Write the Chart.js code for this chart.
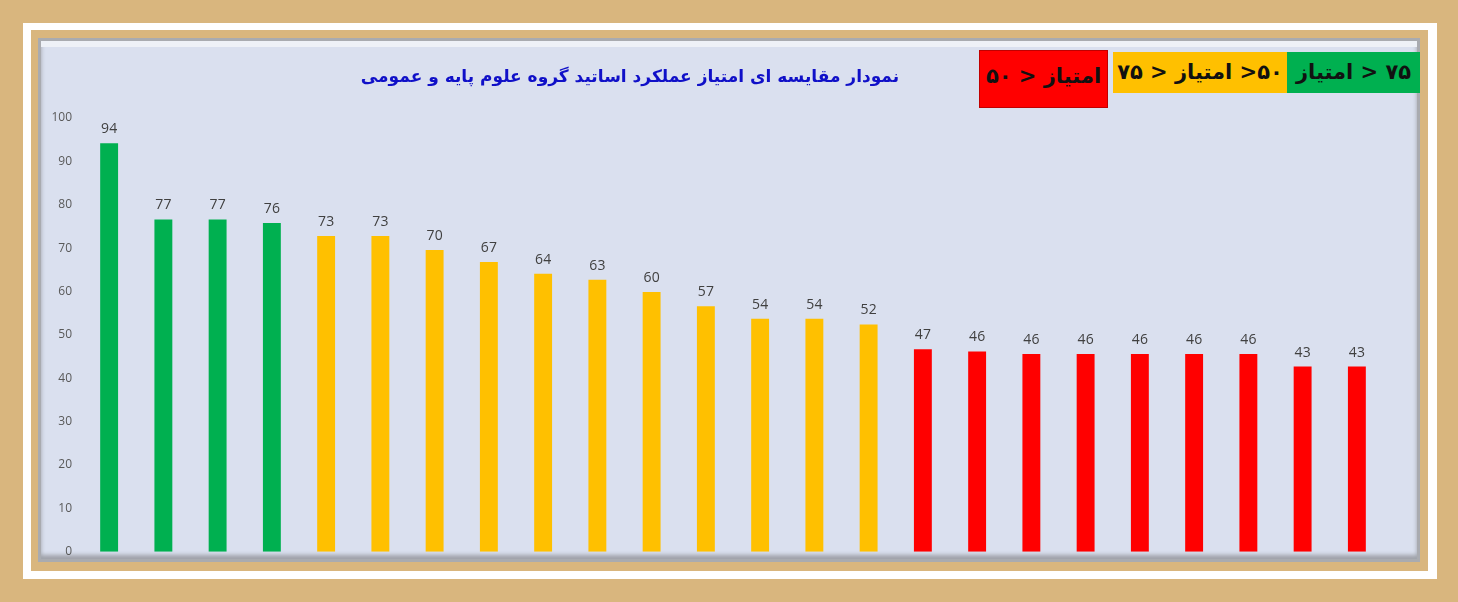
<!DOCTYPE html>
<html>
<head>
<meta charset="utf-8">
<script src="https://cdn.jsdelivr.net/npm/chart.js@4.4.0/dist/chart.umd.min.js"></script>
<style>
  body { margin: 0; width: 1458px; height: 602px; background: #d9b67e; position: relative; overflow: hidden; }
  .white { position: absolute; left: 23px; top: 23px; width: 1414px; height: 556px; background: #ffffff; }
  .tan { position: absolute; left: 31px; top: 30px; width: 1397px; height: 541px; background: #d9b67e; }
  .panel { position: absolute; left: 38px; top: 38px; width: 1382px; height: 524px; background: #dae0ef;
           box-sizing: border-box; border: 3px solid #a9abb0; box-shadow: inset 0 6px 0 #eef1f7, inset 0 -4px 4px #9ea1a8; }
  #wrap { position: absolute; left: 42px; top: 42px; width: 1375px; height: 519px; }
  .title { position: absolute; left: 330px; top: 66px; width: 600px; text-align: center; direction: rtl; white-space: nowrap;
           font: bold 17px "DejaVu Sans", sans-serif; color: #1010c8; }
  .box { position: absolute; direction: rtl; text-align: center; font: bold 21px "DejaVu Sans", sans-serif; color: #111; box-sizing: border-box; white-space: nowrap; }
</style>
</head>
<body>
<div class="white"></div>
<div class="tan"></div>
<div class="panel"></div>
<div id="wrap"><canvas id="chartScores"></canvas></div>
<div class="title">نمودار مقایسه ای امتیاز عملکرد اساتید گروه علوم پایه و عمومی</div>
<div class="box" style="left:1287px;top:52px;width:133px;height:41px;line-height:41px;background:#00b050;">۷۵ &lt; امتیاز</div>
<div class="box" style="left:1113px;top:52px;width:174px;height:41px;line-height:41px;background:#ffc000;">۵۰&lt; امتیاز &lt; ۷۵</div>
<div class="box" style="left:979px;top:50px;width:129px;height:58px;line-height:50px;background:#ff0000;border:1px solid #c00000;">امتیاز &lt; ۵۰</div>

<script>
// داده های نمودار
const categories = ['1','2','3','4','5','6','7','8','9','10','11','12','13','14','15','16','17','18','19','20','21','22','23','24'];
const scores = [94.2, 76.6, 76.6, 75.8, 72.8, 72.8, 69.6, 66.8, 64.1, 62.7, 59.9, 56.6, 53.7, 53.7, 52.4,
                46.7, 46.2, 45.6, 45.6, 45.6, 45.6, 45.6, 42.7, 42.7];
const yTicks = [0, 10, 20, 30, 40, 50, 60, 70, 80, 90, 100];

// رنگ هر ستون بر اساس بازه امتیاز
function barColor(v) {
    if (v >= 75) return '#00b050';
    if (v >= 50) return '#ffc000';
    return '#ff0000';
}

// برچسب عدد بالای هر ستون
const valueLabels = {
    id: 'valueLabels',
    afterDatasetsDraw(chart) {
        const ctx = chart.ctx;
        const meta = chart.getDatasetMeta(0);
        ctx.save();
        ctx.font = '14px "Open Sans", sans-serif';
        ctx.fillStyle = '#404040';
        ctx.textAlign = 'center';
        ctx.textBaseline = 'bottom';
        meta.data.forEach((bar, i) => {
            ctx.fillText(Math.round(scores[i]), bar.x, bar.y - 7);
        });
        ctx.restore();
    }
};

new Chart(document.getElementById('chartScores'), {
    type: 'bar',
    data: {
        labels: categories,
        datasets: [{
            data: scores,
            backgroundColor: scores.map(barColor),
            borderWidth: 0,
            barPercentage: 0.33,
            categoryPercentage: 1.0
        }]
    },
    options: {
        responsive: true,
        maintainAspectRatio: false,
        animation: false,
        layout: { padding: { left: 0, right: 33, top: 76, bottom: 8 } },
        plugins: { legend: { display: false }, tooltip: { enabled: false } },
        scales: {
            x: { display: false },
            y: {
                min: 0,
                max: 100,
                afterFit(scale) { scale.width = 40; },
                afterBuildTicks(scale) { scale.ticks = yTicks.map(v => ({ value: v })); },
                grid: { display: false },
                border: { display: false },
                ticks: {
                    padding: 2,
                    color: '#595959',
                    font: { family: '"Open Sans", sans-serif', size: 12 }
                }
            }
        }
    },
    plugins: [valueLabels]
});
</script>
</body>
</html>
